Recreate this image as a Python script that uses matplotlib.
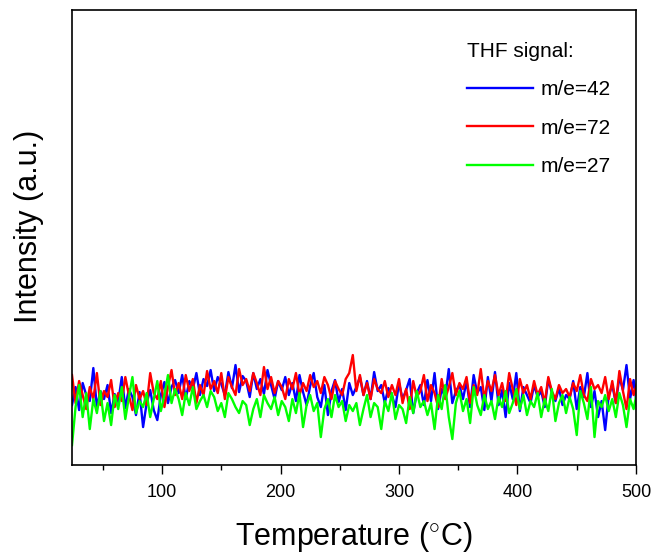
import matplotlib
matplotlib.use("Agg")
import matplotlib.pyplot as plt
import numpy as np

plt.rcParams['font.family'] = ['Liberation Sans', 'DejaVu Sans']
plt.rcParams['mathtext.fontset'] = 'custom'
plt.rcParams['mathtext.rm'] = 'Liberation Sans'

# temperatura co 3 stopnie
temp = np.arange(24, 502, 3)

m42 = [60, 78, 55, 82, 70, 64, 97, 58, 74, 66,
       80, 52, 71, 63, 88, 57, 76, 68, 50, 73,
       38, 62, 75, 55, 45, 70, 83, 62, 78, 85,
       72, 90, 66, 84, 76, 92, 70, 86, 79, 95,
       74, 88, 81, 70, 93, 77, 100, 73, 89, 84,
       68, 92, 76, 86, 71, 95, 80, 66, 84, 75,
       88, 70, 82, 64, 90, 73, 60, 79, 92, 68,
       58, 80, 50, 74, 85, 63, 76, 55, 82, 70,
       78, 88, 70, 84, 66, 93, 74, 80, 62, 77,
       70, 58, 82, 66, 75, 86, 52, 72, 80, 60,
       85, 64, 92, 56, 76, 68, 96, 62, 74, 80,
       66, 84, 58, 90, 72, 78, 55, 88, 64, 93,
       60, 75, 48, 82, 66, 92, 54, 78, 70, 62,
       80, 68, 74, 58, 86, 72, 64, 77, 60, 70,
       66, 84, 56, 78, 68, 92, 58, 74, 48, 64,
       35, 70, 80, 62, 88, 75, 100, 66, 85, 58]

m72 = [90, 62, 84, 70, 56, 78, 66, 92, 60, 74,
       68, 85, 58, 72, 64, 88, 70, 55, 80, 66,
       74, 60, 92, 72, 66, 84, 58, 78, 95, 70,
       82, 66, 90, 74, 86, 62, 80, 70, 94, 76,
       84, 72, 92, 66, 88, 78, 70, 96, 80, 86,
       74, 92, 82, 70, 98, 76, 88, 72, 84, 78,
       66, 86, 76, 92, 70, 82, 74, 90, 78, 84,
       72, 88, 80, 66, 84, 76, 70, 86, 92, 110,
       74, 90, 70, 82, 66, 86, 76, 72, 84, 68,
       80, 70, 86, 62, 76, 56, 84, 68, 74, 90,
       64, 80, 72, 58, 86, 66, 78, 92, 70, 82,
       76, 88, 62, 80, 70, 96, 66, 84, 74, 90,
       70, 82, 64, 92, 76, 60, 86, 72, 80, 66,
       84, 70, 78, 62, 88, 74, 66, 80, 72, 76,
       68, 82, 74, 90, 70, 64, 86, 76, 80, 72,
       88, 66, 84, 62, 94, 74, 56, 86, 70, 82]

m27 = [20, 58, 80, 48, 72, 36, 66, 52, 74, 44,
       62, 40, 70, 56, 78, 46, 68, 88, 52, 64,
       58, 72, 48, 66, 84, 54, 70, 90, 62, 76,
       66, 50, 72, 60, 78, 56, 64, 70, 58, 74,
       68, 54, 62, 48, 72, 66, 58, 52, 64, 60,
       40, 56, 66, 48, 70, 62, 56, 68, 50, 64,
       58, 44, 66, 52, 72, 38, 60, 70, 54, 62,
       28, 56, 66, 48, 70, 58, 64, 44, 60, 54,
       62, 40, 56, 70, 48, 62, 58, 36, 64, 54,
       72, 46, 60, 56, 42, 68, 52, 74, 58, 64,
       50, 62, 36, 70, 56, 80, 48, 26, 62, 74,
       54, 66, 42, 78, 60, 50, 70, 56, 64, 46,
       68, 58, 74, 52, 62, 76, 56, 70, 50, 64,
       58, 72, 48, 66, 54, 76, 44, 62, 70, 52,
       68, 56, 30, 74, 62, 46, 78, 28, 64, 58,
       70, 54, 66, 48, 72, 60, 38, 66, 56, 74]

podpisy = ["m/e=42", "m/e=72", "m/e=27"]
kolory = ["#0000ff", "#ff0000", "#00ff00"]

fig = plt.figure(figsize=(6.57, 5.53), dpi=100)
ax = fig.add_axes([0.1096, 0.159, 0.8584, 0.823])

for dane, p, k in zip([m42, m72, m27], podpisy, kolory):
    ax.plot(temp, dane, color=k, lw=1.7, label=p)

ax.set_xlim(24, 500)
ax.set_ylim(0, 455)
ax.set_xticks([100, 200, 300, 400, 500])
ax.set_xticks([50, 150, 250, 350, 450], minor=True)
ax.set_yticks([])
ax.tick_params(axis='x', which='major', direction='out', length=6.5, width=1,
               labelsize=13, pad=7)
ax.tick_params(axis='x', which='minor', direction='out', length=3.5, width=1)
for s in ax.spines.values():
    s.set_linewidth(1.2)

ax.set_xlabel(r"Temperature ($^{\circ}$C)", fontsize=22, labelpad=14)
ax.set_ylabel("Intensity (a.u.)", fontsize=22)
ax.yaxis.set_label_coords(-0.05, 0.525)

leg = ax.legend(title="THF signal:", loc="upper left", frameon=False,
                fontsize=15, title_fontsize=15, handlelength=3.2,
                handletextpad=0.35, labelspacing=0.93,
                borderpad=0, borderaxespad=0,
                bbox_to_anchor=(0.70, 0.93))
leg._legend_box.align = "left"

fig.savefig("out.png", dpi=100)
